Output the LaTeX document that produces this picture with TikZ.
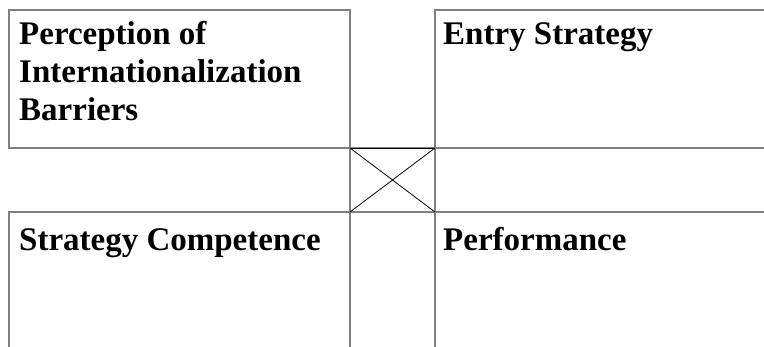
\documentclass[tikz,border=0pt]{standalone}
\usepackage{fontspec}
\setmainfont{Liberation Serif}

\begin{document}
\begin{tikzpicture}[
    x=1pt, y=-1pt,
    frame line/.style={draw=black!50, line width=1.4pt},
    cross line/.style={draw=black, line width=0.8pt},
    box title/.style={anchor=base west, inner sep=0pt, align=left,
        font=\fontsize{33}{38}\selectfont\bfseries}
]
    \useasboundingbox (0,0) rectangle (764,347);
    \clip (0,0) rectangle (764,347);

    % Corners of the middle square
    \coordinate (tl) at (350,148);
    \coordinate (tr) at (435,148);
    \coordinate (bl) at (350,212);
    \coordinate (br) at (435,212);

    % Boxes (the right and lower ones run past the edge)
    \draw[frame line] (9,10) rectangle (tl);
    \draw[frame line] (435,10) rectangle (820,148);
    \draw[frame line] (9,212) rectangle (350,400);
    \draw[frame line] (br) rectangle (820,400);
    \draw[frame line] (tl) rectangle (br);

    % Cross in the middle
    \draw[cross line] (tl) -- (tr);
    \draw[cross line] (tl) -- (br);
    \draw[cross line] (tr) -- (bl);

    % Titles (base = last line)
    \node[box title] (barriers) at (19,121) {Perception of\\Internationalization\\Barriers};
    \node[box title] (entry) at (443,45) {Entry Strategy};
    \node[box title] (competence) at (19,251) {Strategy Competence};
    \node[box title] (performance) at (443,251) {Performance};
\end{tikzpicture}
\end{document}
